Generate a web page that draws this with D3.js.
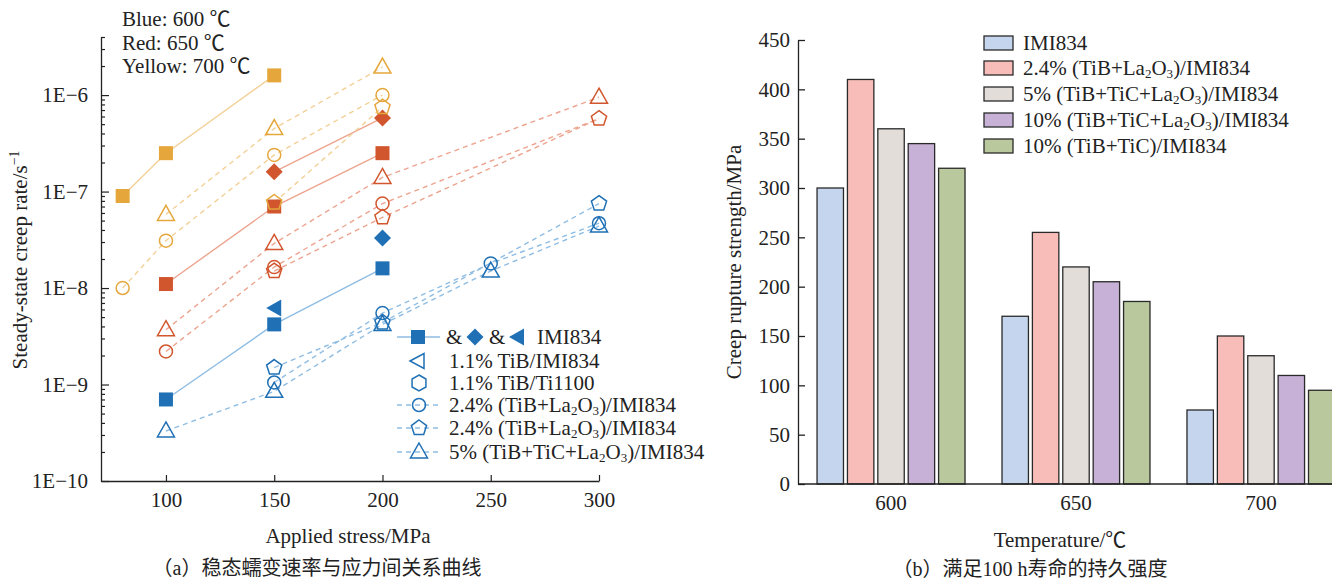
<!DOCTYPE html>
<html><head><meta charset="utf-8">
<script src="https://cdn.jsdelivr.net/npm/d3@7"></script>
<style>
body{margin:0;background:#fff}
svg{display:block}
text{font-family:"Liberation Serif","Times New Roman","Noto Sans CJK SC",serif;fill:#222}
</style>
</head><body>
<svg id="c" width="1332" height="582"></svg>
<script>
// ---------------- DATA: panel (a) ----------------
const stressTicks = [100, 150, 200, 250, 300];
const rateTicks = [1e-10, 1e-9, 1e-8, 1e-7, 1e-6];
const rateTickLabels = ["1E\u221210", "1E\u22129", "1E\u22128", "1E\u22127", "1E\u22126"];

const blueIMI834      = [[100, 7e-10], [150, 4.2e-9], [200, 1.6e-8]];
const blueDiamond     = [[200, 3.3e-8]];
const blueLeftTri     = [[150, 6.2e-9]];
const blueCircle      = [[150, 1.05e-9], [200, 5.5e-9], [250, 1.8e-8], [300, 4.7e-8]];
const bluePentagon    = [[150, 1.5e-9], [200, 4.4e-9], [300, 7.5e-8]];
const blueTriangle    = [[100, 3.3e-10], [150, 8.5e-10], [200, 4.2e-9], [250, 1.5e-8], [300, 4.4e-8]];

const redIMI834       = [[100, 1.1e-8], [150, 7e-8], [200, 2.5e-7]];
const redDiamond      = [[150, 1.6e-7], [200, 5.8e-7]];
const redCircle       = [[100, 2.2e-9], [150, 1.65e-8], [200, 7.5e-8], [300, 5.7e-7]];
const redPentagon     = [[150, 1.5e-8], [200, 5.4e-8], [300, 5.7e-7]];
const redTriangle     = [[100, 3.7e-9], [150, 2.9e-8], [200, 1.4e-7], [300, 9.5e-7]];

const yellowIMI834    = [[80, 9e-8], [100, 2.5e-7], [150, 1.6e-6]];
const yellowCircle    = [[80, 1e-8], [100, 3.1e-8], [150, 2.4e-7], [200, 1e-6]];
const yellowPentagon  = [[150, 7.7e-8], [200, 7.5e-7]];
const yellowTriangle  = [[100, 5.8e-8], [150, 4.5e-7], [200, 1.95e-6]];

// ---------------- DATA: panel (b) ----------------
const temperatures = ["600", "650", "700"];
const barSeriesNames = [
  [["IMI834",0]],
  [["2.4% (TiB+La",0],["2",1],["O",0],["3",1],[")/IMI834",0]],
  [["5% (TiB+TiC+La",0],["2",1],["O",0],["3",1],[")/IMI834",0]],
  [["10% (TiB+TiC+La",0],["2",1],["O",0],["3",1],[")/IMI834",0]],
  [["10% (TiB+TiC)/IMI834",0]]
];
const strengthIMI834     = [300, 170, 75];
const strengthTiBLa      = [410, 255, 150];
const strength5TiBTiC    = [360, 220, 130];
const strength10TiBTiCLa = [345, 205, 110];
const strength10TiBTiC   = [320, 185, 95];
const strengthTicks = [0, 50, 100, 150, 200, 250, 300, 350, 400, 450];

// ---------------- helpers ----------------
const svg = d3.select("#c");
const FS = 21;

function rich(t, segs){
  let prev = 0;
  segs.forEach(([s, type]) => {
    const ts = t.append("tspan").text(s);
    if (type === 1){ ts.attr("font-size", FS*0.62).attr("dy", prev===2 ? 11 : 3); }
    else if (type === 2){ ts.attr("font-size", FS*0.66).attr("dy", prev===1 ? -11 : -8); }
    else { if (prev === 1) ts.attr("dy", -3); if (prev === 2) ts.attr("dy", 8); }
    prev = type;
  });
  return t;
}
function poly(n, r, rot){
  const pts = [];
  for (let i=0;i<n;i++){ const a = rot + i*2*Math.PI/n; pts.push([r*Math.cos(a), r*Math.sin(a)]); }
  return "M" + pts.map(p=>p[0].toFixed(2)+","+p[1].toFixed(2)).join("L") + "Z";
}
function shapePath(type){
  switch(type){
    case "square": return "M-7,-7h14v14h-14Z";
    case "diamond": return "M0,-8.5L8.5,0L0,8.5L-8.5,0Z";
    case "lefttri": return "M-8,0L7,-8.5L7,8.5Z";
    case "circle": return "M6.5,0A6.5,6.5 0 1 1 -6.5,0A6.5,6.5 0 1 1 6.5,0Z";
    case "triangle": return "M0,-9L8.5,6L-8.5,6Z";
    case "pentagon": return poly(5, 8, -Math.PI/2);
    case "hexagon": return poly(6, 8, -Math.PI/2);
  }
}
const filled = {square:true, diamond:true, lefttri:true};
function drawMarker(g, type, color, cx, cy){
  g.append("path").attr("d", shapePath(type))
    .attr("transform", `translate(${cx},${cy})`)
    .attr("fill", filled[type] ? color : "none")
    .attr("stroke", color).attr("stroke-width", filled[type] ? 0 : 1.5);
}

// ---------------- panel (a) ----------------
const x = d3.scaleLinear().domain([70, 300]).range([101, 599]);
const y = d3.scaleLog().domain([1e-10, 4e-6]).range([481, 37]);

const pa = svg.append("g");
const xAxis = d3.axisBottom(x).tickValues(stressTicks).tickSizeInner(-6).tickSizeOuter(0).tickPadding(11).tickFormat(d3.format("d"));
const gx = pa.append("g").attr("transform", "translate(0,481)").call(xAxis);
const yAxis = d3.axisLeft(y).tickValues(rateTicks).tickSizeInner(-8).tickSizeOuter(0).tickPadding(13)
  .tickFormat((d,i)=>rateTickLabels[i]);
const gy = pa.append("g").attr("transform", "translate(101,0)").call(yAxis);
const minor = [];
[-10,-9,-8,-7,-6].forEach(e=>{ for(let k=2;k<=9;k++){ const v=k*Math.pow(10,e); if (v<=4e-6*1.0001) minor.push(v);} });
pa.append("g").attr("transform", "translate(101,0)")
  .call(d3.axisLeft(y).tickValues(minor).tickSizeInner(-4).tickSizeOuter(0).tickFormat(""))
  .select(".domain").remove();
[gx, gy].forEach(g=>{
  g.selectAll("text").attr("font-size", FS).attr("fill","#222").attr("font-family",'"Liberation Serif",serif');
  g.selectAll("line,path").attr("stroke","#222").attr("stroke-width",1.3);
});
pa.selectAll(".tick line").attr("stroke","#222").attr("stroke-width",1.2);

const C = {blue:"#1f70b5", red:"#d1552d", yellow:"#e5a73c"};
const L = {blue:"#8fbde3", red:"#eda48f", yellow:"#f3d096"};

const lineGen = d3.line().x(d=>x(d[0])).y(d=>y(d[1]));

// hidden: stress values whose marker is covered by another marker in the original figure
const series = [
  {d:blueIMI834, c:"blue", m:"square", line:"solid"},
  {d:blueDiamond, c:"blue", m:"diamond", line:null},
  {d:blueLeftTri, c:"blue", m:"lefttri", line:null},
  {d:blueCircle, c:"blue", m:"circle", line:"dash"},
  {d:bluePentagon, c:"blue", m:"pentagon", line:"dash"},
  {d:blueTriangle, c:"blue", m:"triangle", line:"dash"},
  {d:redIMI834, c:"red", m:"square", line:"solid"},
  {d:redDiamond, c:"red", m:"diamond", line:"solid"},
  {d:redCircle, c:"red", m:"circle", line:"dash", hidden:[300]},
  {d:redPentagon, c:"red", m:"pentagon", line:"dash"},
  {d:redTriangle, c:"red", m:"triangle", line:"dash"},
  {d:yellowIMI834, c:"yellow", m:"square", line:"solid"},
  {d:yellowCircle, c:"yellow", m:"circle", line:"dash"},
  {d:yellowPentagon, c:"yellow", m:"pentagon", line:"dash"},
  {d:yellowTriangle, c:"yellow", m:"triangle", line:"dash"}
];
const gl = pa.append("g");
series.forEach(s=>{
  if (!s.line || s.d.length<2) return;
  gl.append("path").attr("d", lineGen(s.d)).attr("fill","none")
    .attr("stroke", L[s.c]).attr("stroke-width", 1.4)
    .attr("stroke-dasharray", s.line==="dash" ? "5,4" : null);
});
const gm = pa.append("g");
series.forEach(s=>{ s.d.forEach(p=>{ if (s.hidden && s.hidden.includes(p[0])) return; drawMarker(gm, s.m, C[s.c], x(p[0]), y(p[1])); }); });

// temperature notes
[["Blue: 600 \u2103",26],["Red: 650 \u2103",50],["Yellow: 700 \u2103",73]].forEach(([t,yy])=>{
  pa.append("text").attr("x",122).attr("y",yy).attr("font-size",FS).text(t);
});

// legend (a)
const lg = pa.append("g");
const legRows = [337, 361, 383, 405, 428, 452];
lg.append("line").attr("x1",397).attr("x2",440).attr("y1",legRows[0]).attr("y2",legRows[0]).attr("stroke",L.blue).attr("stroke-width",1.4);
drawMarker(lg, "square", C.blue, 418, legRows[0]);
lg.append("text").attr("x",446).attr("y",legRows[0]+7).attr("font-size",FS).text("&");
drawMarker(lg, "diamond", C.blue, 475, legRows[0]);
lg.append("text").attr("x",489).attr("y",legRows[0]+7).attr("font-size",FS).text("&");
drawMarker(lg, "lefttri", C.blue, 517, legRows[0]);
lg.append("text").attr("x",537).attr("y",legRows[0]+7).attr("font-size",FS).text("IMI834");
lg.append("path").attr("d","M-7,0L7,-7.5L7,7.5Z").attr("transform",`translate(417,${legRows[1]})`)
  .attr("fill","none").attr("stroke",C.blue).attr("stroke-width",1.5);
drawMarker(lg, "hexagon", C.blue, 419, legRows[2]);
const legTexts = [
  null,
  [["1.1% TiB/IMI834",0]],
  [["1.1% TiB/Ti1100",0]],
  [["2.4% (TiB+La",0],["2",1],["O",0],["3",1],[")/IMI834",0]],
  [["2.4% (TiB+La",0],["2",1],["O",0],["3",1],[")/IMI834",0]],
  [["5% (TiB+TiC+La",0],["2",1],["O",0],["3",1],[")/IMI834",0]]
];
["circle","pentagon","triangle"].forEach((m,i)=>{
  const yy = legRows[3+i];
  lg.append("line").attr("x1",397).attr("x2",442).attr("y1",yy).attr("y2",yy)
    .attr("stroke",L.blue).attr("stroke-width",1.4).attr("stroke-dasharray","5,4");
  drawMarker(lg, m, C.blue, 419, yy);
});
for (let i=1;i<legTexts.length;i++){
  rich(lg.append("text").attr("x",449).attr("y",legRows[i]+7).attr("font-size",FS), legTexts[i]);
}

// axis titles (a)
pa.append("text").attr("x",348).attr("y",543).attr("text-anchor","middle").attr("font-size",FS).text("Applied stress/MPa");
rich(pa.append("text").attr("transform","translate(27,260) rotate(-90)").attr("text-anchor","middle").attr("font-size",FS),
  [["Steady-state creep rate/s",0],["\u22121",2]]);
pa.append("text").attr("x",317).attr("y",575).attr("text-anchor","middle").attr("font-size",20)
  .text("\uFF08a\uFF09\u7A33\u6001\u8815\u53D8\u901F\u7387\u4E0E\u5E94\u529B\u95F4\u5173\u7CFB\u66F2\u7EBF");

// ---------------- panel (b) ----------------
const pb = svg.append("g");
const yb = d3.scaleLinear().domain([0, 450]).range([484, 40]);
const x0 = d3.scaleBand().domain(temperatures).range([798, 1354]).paddingInner(0.2).paddingOuter(0.103);
const allSeries = [strengthIMI834, strengthTiBLa, strength5TiBTiC, strength10TiBTiCLa, strength10TiBTiC];
const x1 = d3.scaleBand().domain(d3.range(allSeries.length)).range([0, x0.bandwidth()]).paddingInner(0.13).paddingOuter(0);
const barColors = ["#c6d5ee", "#f8bdb8", "#e2ddd9", "#c7b1d6", "#bac99d"];

const gb = pb.append("g");
temperatures.forEach((t, ti)=>{
  allSeries.forEach((vals, si)=>{
    gb.append("rect").attr("x", x0(t)+x1(si)).attr("y", yb(vals[ti]))
      .attr("width", x1.bandwidth()).attr("height", yb(0)-yb(vals[ti]))
      .attr("fill", barColors[si]).attr("stroke","#2a2a2a").attr("stroke-width",1.3);
  });
});
const gyb = pb.append("g").attr("transform","translate(798,0)")
  .call(d3.axisLeft(yb).tickValues(strengthTicks).tickSizeInner(-7).tickSizeOuter(0).tickPadding(8));
const gxb = pb.append("g").attr("transform","translate(0,484)")
  .call(d3.axisBottom(x0).tickSize(0).tickPadding(11));
gxb.select(".domain").attr("d","M798,0H1332");
[gyb, gxb].forEach(g=>{
  g.selectAll("text").attr("font-size", FS).attr("fill","#222").attr("font-family",'"Liberation Serif",serif');
  g.selectAll("line,path").attr("stroke","#222").attr("stroke-width",1.3);
});

// legend (b)
const lb = pb.append("g");
const legBRows = [43, 68, 94, 120, 146];
barSeriesNames.forEach((nm, i)=>{
  lb.append("rect").attr("x",984).attr("y",legBRows[i]-7).attr("width",29).attr("height",14)
    .attr("fill",barColors[i]).attr("stroke","#2a2a2a").attr("stroke-width",1.3);
  rich(lb.append("text").attr("x",1023).attr("y",legBRows[i]+7).attr("font-size",FS), nm);
});

pb.append("text").attr("x",1060).attr("y",547).attr("text-anchor","middle").attr("font-size",FS).text("Temperature/\u2103");
pb.append("text").attr("transform","translate(741,262) rotate(-90)").attr("text-anchor","middle").attr("font-size",FS)
  .text("Creep rupture strength/MPa");
pb.append("text").attr("x",1030).attr("y",576).attr("text-anchor","middle").attr("font-size",20)
  .text("\uFF08b\uFF09\u6EE1\u8DB3100 h\u5BFF\u547D\u7684\u6301\u4E45\u5F3A\u5EA6");
</script>
</body></html>
